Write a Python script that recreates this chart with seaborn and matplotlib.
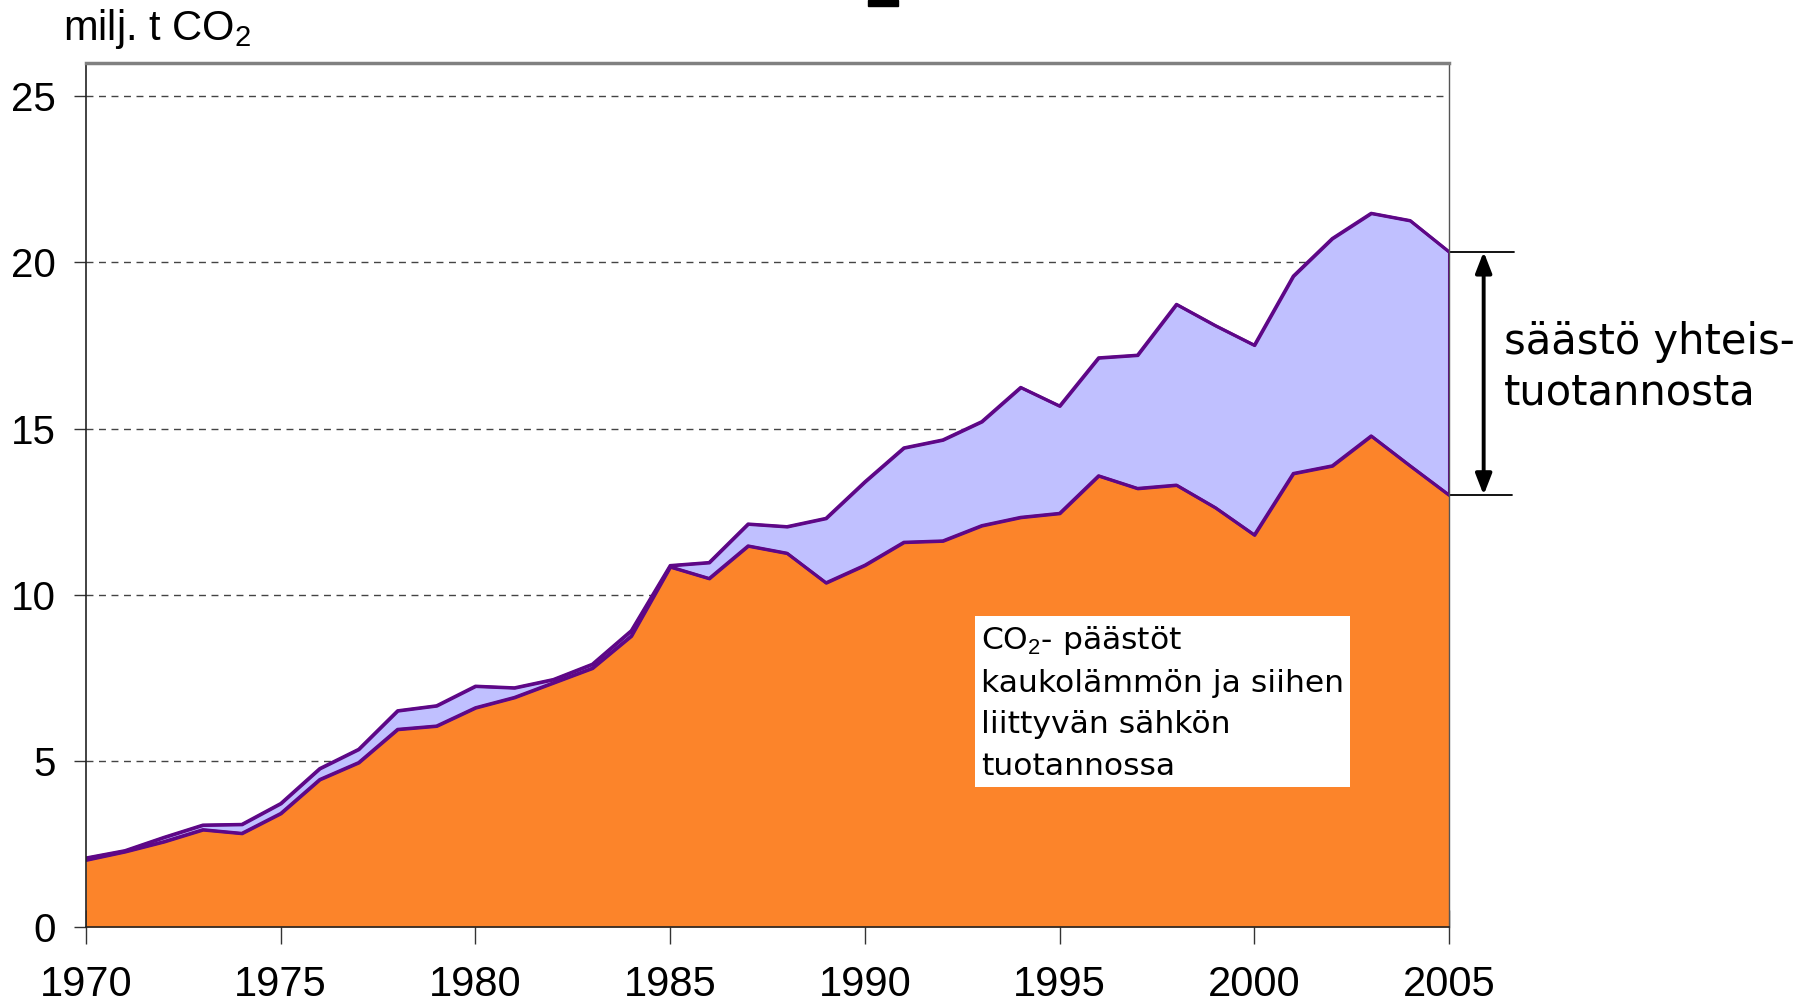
import matplotlib
matplotlib.use('Agg')
import matplotlib.pyplot as plt
import numpy as np
import pandas as pd
import seaborn as sns
from matplotlib.patches import Rectangle

# vuodet ja päästöt (milj. t CO2), luettu kuvasta
vuodet = list(range(1970, 2006))
ilman_yhteistuotantoa = [2.08, 2.30, 2.70, 3.07, 3.09, 3.72, 4.77, 5.35, 6.51, 6.66,
                         7.25, 7.20, 7.45, 7.91, 8.92, 10.88, 10.97, 12.13, 12.05, 12.30,
                         13.40, 14.42, 14.66, 15.21, 16.24, 15.68, 17.13, 17.21, 18.74, 18.10,
                         17.51, 19.59, 20.72, 21.48, 21.26, 20.32]
paastot = [2.02, 2.27, 2.57, 2.93, 2.82, 3.42, 4.44, 4.95, 5.95, 6.05,
           6.60, 6.91, 7.35, 7.79, 8.76, 10.84, 10.49, 11.47, 11.25, 10.36,
           10.89, 11.58, 11.62, 12.08, 12.33, 12.45, 13.58, 13.20, 13.30, 12.62,
           11.80, 13.65, 13.88, 14.78, 13.88, 13.00]
x_ticks = [1970, 1975, 1980, 1985, 1990, 1995, 2000, 2005]
y_ticks = [0, 5, 10, 15, 20, 25]

df = pd.DataFrame({'vuosi': vuodet, 'yla': ilman_yhteistuotantoa, 'ala': paastot})

oranssi = '#FC842A'
laventeli = '#C0C0FF'
violetti = '#5E0787'

sns.set_style('white')
plt.rcParams['font.family'] = ['Liberation Sans', 'DejaVu Sans']
plt.rcParams['mathtext.fontset'] = 'custom'
plt.rcParams['mathtext.rm'] = 'Liberation Sans'
plt.rcParams['mathtext.it'] = 'Liberation Sans'
plt.rcParams['text.color'] = 'black'
plt.rcParams['xtick.labelcolor'] = 'black'
plt.rcParams['ytick.labelcolor'] = 'black'

fig = plt.figure(figsize=(17.99, 10.02), dpi=100)
ax = fig.add_axes([86 / 1799, 1 - 927 / 1002, (1449 - 86) / 1799, (927 - 63) / 1002])

# vaakaviivat taakse
for y in y_ticks[1:]:
    ax.axhline(y, color='#444444', lw=1, dashes=(5, 4), zorder=0)

ax.fill_between(df['vuosi'], 0, df['ala'], facecolor=oranssi, lw=0, zorder=1)
ax.fill_between(df['vuosi'], df['ala'], df['yla'], facecolor=laventeli,
                edgecolor=violetti, lw=2.2, zorder=2)
sns.lineplot(data=df, x='vuosi', y='yla', ax=ax, color=violetti, lw=2.2, zorder=3)
sns.lineplot(data=df, x='vuosi', y='ala', ax=ax, color=violetti, lw=2.2, zorder=3)

ax.set_xlim(1970, 2005)
ax.set_ylim(0, 26)
ax.set_xticks(x_ticks)
ax.set_yticks(y_ticks)
ax.set_xlabel('')
ax.set_ylabel('')
ax.tick_params(axis='x', direction='inout', length=24, width=1, color='#333333',
               labelsize=30, pad=15, bottom=True, labelcolor='black')
ax.tick_params(axis='y', direction='out', length=9, width=1, color='#333333',
               labelsize=29, pad=13, left=True, labelcolor='black')

for side in ['left', 'bottom']:
    ax.spines[side].set_color('#222222')
    ax.spines[side].set_linewidth(1.2)
ax.spines['top'].set_color('#808080')
ax.spines['top'].set_linewidth(2.5)
ax.spines['right'].set_color('#555555')
ax.spines['right'].set_linewidth(1)
for s in ax.spines.values():
    s.set_zorder(5)

# yksikkö
fig.text(63 / 1799, 1 - 40 / 1002, r'milj. t CO$_2$', fontsize=30, va='baseline', ha='left',
         color='black')

# otsikon katkennut osa ylhäällä
fig.add_artist(Rectangle((868 / 1799, 1 - 6 / 1002), 30 / 1799, 6 / 1002,
                         transform=fig.transFigure, color='black'))

# tekstilaatikko
ax.text(1992.98, 9.12,
        'CO$_2$- päästöt\nkaukolämmön ja siihen\nliittyvän sähkön\ntuotannossa',
        fontsize=22.6, family=['DejaVu Sans'], va='top', ha='left', linespacing=1.53,
        color='black',
        bbox=dict(boxstyle='square,pad=0.2', facecolor='white', edgecolor='none'),
        zorder=6)

# säästö-nuoli
x_nuoli = 2005.89
ax.plot([2005, 2006.68], [ilman_yhteistuotantoa[-1]] * 2, color='black', lw=1.3, clip_on=False)
ax.plot([2005, 2006.62], [paastot[-1]] * 2, color='black', lw=1.3, clip_on=False)
ax.annotate('', xy=(x_nuoli, ilman_yhteistuotantoa[-1]), xytext=(x_nuoli, paastot[-1]),
            arrowprops=dict(arrowstyle='<|-|>,head_length=0.9,head_width=0.35',
                            color='black', lw=2.8, mutation_scale=14,
                            shrinkA=0, shrinkB=0),
            annotation_clip=False)
ax.text(2006.4, 16.85, 'säästö yhteis-\ntuotannosta', fontsize=30, family=['DejaVu Sans'],
        va='center', ha='left', linespacing=1.25, clip_on=False, color='black')

fig.savefig('out.png', dpi=100)
